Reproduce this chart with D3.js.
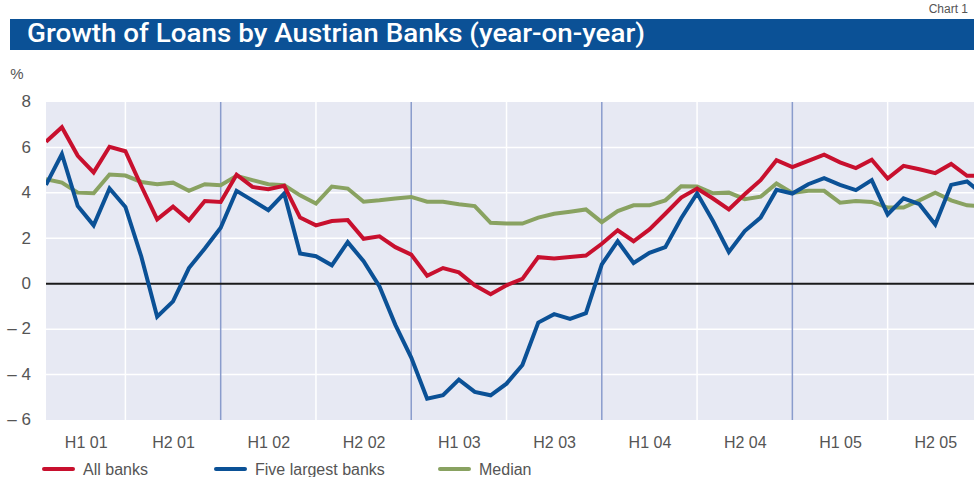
<!DOCTYPE html>
<html>
<head>
<meta charset="utf-8">
<script src="https://cdn.jsdelivr.net/npm/d3@7"></script>
<style>
  body { margin: 0; background: #fff; }
  text { font-family: "Liberation Sans", "DejaVu Sans", sans-serif; }
</style>
</head>
<body>
<div id="chart"></div>
<script>
// monthly observations, index 0 = first month shown
const allBanks = [6.25, 6.89, 5.63, 4.90, 6.03, 5.83, 4.3, 2.83, 3.39, 2.79, 3.64, 3.6,
  4.8, 4.26, 4.16, 4.31, 2.91, 2.57, 2.76, 2.8, 1.98, 2.09, 1.61, 1.28,
  0.35, 0.69, 0.5, -0.07, -0.46, -0.07, 0.21, 1.17, 1.11, 1.18, 1.24, 1.76,
  2.35, 1.87, 2.39, 3.08, 3.79, 4.19, 3.75, 3.27, 3.94, 4.56, 5.44, 5.13,
  5.41, 5.68, 5.34, 5.09, 5.46, 4.63, 5.19, 5.04, 4.87, 5.27, 4.75, 4.75];
const fiveLargest = [4.35, 5.71, 3.42, 2.57, 4.19, 3.38, 1.2, -1.45, -0.78, 0.69, 1.55, 2.46,
  4.09, 3.67, 3.24, 3.97, 1.33, 1.21, 0.81, 1.83, 0.99, -0.12, -1.81, -3.25,
  -5.06, -4.91, -4.22, -4.76, -4.91, -4.4, -3.58, -1.71, -1.34, -1.55, -1.3, 0.85,
  1.87, 0.91, 1.36, 1.61, 2.88, 3.98, 2.76, 1.4, 2.32, 2.91, 4.13, 3.97,
  4.38, 4.65, 4.35, 4.12, 4.56, 3.05, 3.76, 3.5, 2.61, 4.35, 4.5, 3.94];
const median = [4.6, 4.45, 4.01, 3.98, 4.81, 4.76, 4.48, 4.38, 4.45, 4.09, 4.38, 4.34,
  4.75, 4.56, 4.38, 4.34, 3.89, 3.53, 4.28, 4.19, 3.61, 3.67, 3.75, 3.82,
  3.61, 3.61, 3.5, 3.42, 2.68, 2.65, 2.65, 2.91, 3.08, 3.17, 3.27, 2.71,
  3.2, 3.45, 3.45, 3.67, 4.29, 4.28, 3.98, 4.01, 3.72, 3.83, 4.41, 4.0,
  4.09, 4.09, 3.57, 3.64, 3.6, 3.35, 3.35, 3.67, 4.01, 3.67, 3.45, 3.42];

const halfYears = ['H1 01', 'H2 01', 'H1 02', 'H2 02', 'H1 03', 'H2 03', 'H1 04', 'H2 04', 'H1 05', 'H2 05'];
const yTicks = [8, 6, 4, 2, 0, -2, -4, -6];

const series = [
  { name: 'Median', values: median, color: '#89a261' },
  { name: 'Five largest banks', values: fiveLargest, color: '#0b5196' },
  { name: 'All banks', values: allBanks, color: '#c8102e' }
];
const legendOrder = ['All banks', 'Five largest banks', 'Median'];

const width = 974;
const height = 477;
const plot = { left: 46, right: 974, top: 102, bottom: 420 };
const monthPx = 15.88;

const svg = d3.select('#chart').append('svg')
  .attr('width', width)
  .attr('height', height);

// header
svg.append('text')
  .attr('x', 968)
  .attr('y', 13)
  .attr('text-anchor', 'end')
  .attr('font-size', 12)
  .attr('fill', '#555')
  .text('Chart 1');

svg.append('rect')
  .attr('x', 10)
  .attr('y', 19)
  .attr('width', width - 10)
  .attr('height', 31)
  .attr('fill', '#0b5196');

svg.append('text')
  .attr('x', 27)
  .attr('y', 42)
  .attr('fill', '#fff')
  .attr('font-size', 25)
  .attr('font-weight', 500)
  .style('font-family', 'Roboto, "Noto Sans", sans-serif')
  .attr('textLength', 618)
  .attr('lengthAdjust', 'spacingAndGlyphs')
  .text('Growth of Loans by Austrian Banks (year-on-year)');

// scales
const x = d3.scaleLinear()
  .domain([0, (plot.right - plot.left) / monthPx])
  .range([plot.left, plot.right]);
const y = d3.scaleLinear()
  .domain([-6, 8])
  .range([plot.bottom, plot.top]);

svg.append('defs').append('clipPath')
  .attr('id', 'plot-clip')
  .append('rect')
  .attr('x', plot.left)
  .attr('y', plot.top - 5)
  .attr('width', plot.right - plot.left)
  .attr('height', plot.bottom - plot.top + 10);

svg.append('rect')
  .attr('x', plot.left)
  .attr('y', plot.top)
  .attr('width', plot.right - plot.left)
  .attr('height', plot.bottom - plot.top)
  .attr('fill', '#e7e9f3');

// horizontal grid
svg.append('g')
  .selectAll('line')
  .data(yTicks.filter(d => d !== 8 && d !== -6 && d !== 0))
  .join('line')
  .attr('x1', plot.left)
  .attr('x2', plot.right)
  .attr('y1', d => y(d))
  .attr('y2', d => y(d))
  .attr('stroke', '#fff')
  .attr('stroke-width', 1.5);

// half-year (white) and year (blue) separators
const halfBounds = d3.range(5, 59, 12);
const yearBounds = d3.range(11, 59, 12);

svg.append('g')
  .selectAll('line')
  .data(halfBounds)
  .join('line')
  .attr('x1', d => x(d))
  .attr('x2', d => x(d))
  .attr('y1', plot.top)
  .attr('y2', plot.bottom)
  .attr('stroke', '#fff')
  .attr('stroke-width', 1.5);

svg.append('g')
  .selectAll('line')
  .data(yearBounds)
  .join('line')
  .attr('x1', d => x(d))
  .attr('x2', d => x(d))
  .attr('y1', plot.top)
  .attr('y2', plot.bottom)
  .attr('stroke', '#8a9ccc')
  .attr('stroke-width', 1.5);

svg.append('line')
  .attr('x1', plot.left)
  .attr('x2', plot.right)
  .attr('y1', y(0))
  .attr('y2', y(0))
  .attr('stroke', '#1a1a1a')
  .attr('stroke-width', 2);

// lines
const line = d3.line()
  .x((d, i) => x(i))
  .y(d => y(d));

svg.append('g')
  .attr('clip-path', 'url(#plot-clip)')
  .selectAll('path')
  .data(series)
  .join('path')
  .attr('d', d => line(d.values))
  .attr('fill', 'none')
  .attr('stroke', d => d.color)
  .attr('stroke-width', 4)
  .attr('stroke-linejoin', 'miter');

// y axis
const fmt = d => d < 0 ? '\u2013 ' + Math.abs(d) : String(d);
const yAxis = svg.append('g')
  .attr('transform', 'translate(31,0)')
  .call(d3.axisLeft(y).tickValues(yTicks).tickSize(0).tickPadding(0).tickFormat(fmt));
yAxis.select('.domain').remove();
yAxis.selectAll('text')
  .attr('font-size', 17)
  .attr('fill', '#555')
  .attr('dy', '0.28em')
  .style('font-family', '"Liberation Sans", sans-serif');

svg.append('text')
  .attr('x', 17)
  .attr('y', 79)
  .attr('text-anchor', 'middle')
  .attr('font-size', 15)
  .attr('fill', '#555')
  .text('%');

// x axis: labels centred on the visible half-year span
const halfCenters = halfYears.map((h, k) => (Math.max(-1 + 6 * k, 0) + 5 + 6 * k) / 2);
const xAxis = svg.append('g')
  .attr('transform', `translate(0,${plot.bottom})`)
  .call(d3.axisBottom(x).tickValues(halfCenters).tickSize(0).tickPadding(17)
    .tickFormat((d, i) => halfYears[i]));
xAxis.select('.domain').remove();
xAxis.selectAll('text')
  .attr('font-size', 16)
  .attr('fill', '#555')
  .style('font-family', '"Liberation Sans", sans-serif');

// legend
const legendX = [44, 216, 440];
const legend = svg.append('g')
  .selectAll('g')
  .data(legendOrder.map(n => series.find(s => s.name === n)))
  .join('g')
  .attr('transform', (d, i) => `translate(${legendX[i]},469)`);

legend.append('line')
  .attr('x1', 0)
  .attr('x2', 29)
  .attr('stroke', d => d.color)
  .attr('stroke-width', 4)
  .attr('stroke-linecap', 'round');

legend.append('text')
  .attr('x', 39)
  .attr('y', 6)
  .attr('font-size', 16)
  .attr('fill', '#555')
  .text(d => d.name);
</script>
</body>
</html>
